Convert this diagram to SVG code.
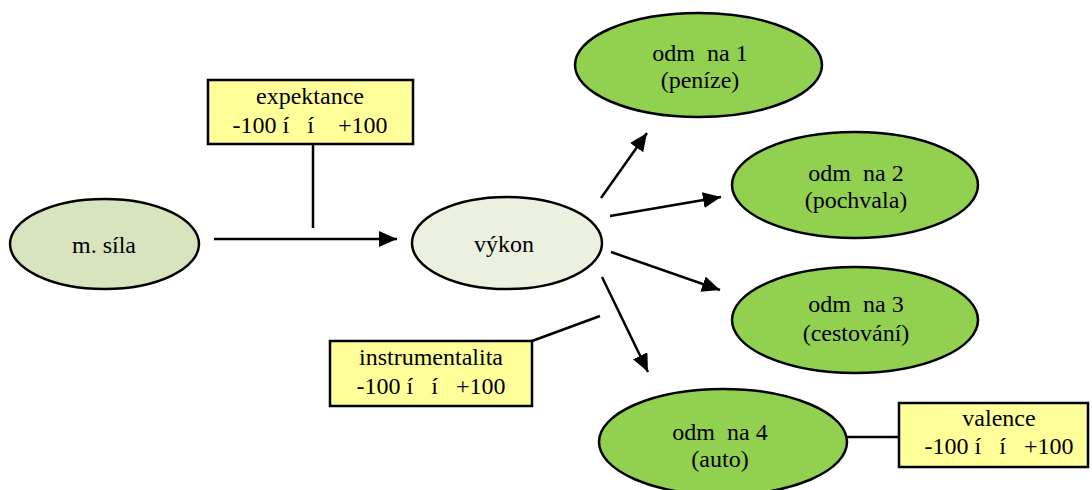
<svg xmlns="http://www.w3.org/2000/svg" width="1092" height="490" viewBox="0 0 1092 490">
<style>
text{font-family:"Liberation Serif","Times New Roman",serif;font-size:24px;fill:#000;text-anchor:middle;white-space:pre}
.el{stroke:#000;stroke-width:2.5}
.g{fill:#92D050}
.box{fill:#FFFF99;stroke:#000;stroke-width:2.5}
.ln{stroke:#000;stroke-width:2.5;fill:none}
</style>
<defs>
<marker id="ah" markerUnits="userSpaceOnUse" markerWidth="20" markerHeight="18" refX="18" refY="8" orient="auto">
<path d="M0,0 L18,8 L0,16 z" fill="#000"/>
</marker>
</defs>
<rect width="1092" height="490" fill="#fff"/>
<g id="connectors">
<line class="ln" x1="214" y1="239" x2="397" y2="239" marker-end="url(#ah)"/>
<line class="ln" x1="601" y1="198" x2="647" y2="133" marker-end="url(#ah)"/>
<line class="ln" x1="610" y1="216" x2="721" y2="197" marker-end="url(#ah)"/>
<line class="ln" x1="611" y1="252" x2="720" y2="290" marker-end="url(#ah)"/>
<line class="ln" x1="602" y1="277" x2="648" y2="372" marker-end="url(#ah)"/>
<line class="ln" x1="313" y1="144" x2="313" y2="228"/>
<line class="ln" x1="532" y1="341" x2="600" y2="316"/>
<line class="ln" x1="847" y1="437" x2="899" y2="437"/>
</g>
<g id="msila">
<ellipse class="el" cx="104.5" cy="244" rx="94.5" ry="45" fill="#D7E4BD"/>
<text x="104" y="253">m. síla</text>
</g>
<g id="vykon">
<ellipse class="el" cx="507" cy="243" rx="95" ry="46" fill="#EBF1DE"/>
<text x="504" y="252">výkon</text>
</g>
<g id="odm1">
<ellipse class="el g" cx="698.5" cy="65" rx="123.5" ry="52"/>
<text x="700" y="61">odm  na 1</text>
<text x="700" y="88">(peníze)</text>
</g>
<g id="odm2">
<ellipse class="el g" cx="855" cy="185" rx="123" ry="53"/>
<text x="856" y="181">odm  na 2</text>
<text x="856" y="208">(pochvala)</text>
</g>
<g id="odm3">
<ellipse class="el g" cx="855" cy="320" rx="123" ry="53"/>
<text x="856" y="312">odm  na 3</text>
<text x="856" y="341">(cestování)</text>
</g>
<g id="odm4">
<ellipse class="el g" cx="723" cy="442" rx="124" ry="53"/>
<text x="720" y="440">odm  na 4</text>
<text x="720" y="467">(auto)</text>
</g>
<g id="expektance">
<rect class="box" x="208" y="80" width="205" height="64"/>
<text x="310" y="104">expektance</text>
<text x="310" y="133">-100 í   í    +100</text>
</g>
<g id="instrumentalita">
<rect class="box" x="330" y="341" width="202" height="65"/>
<text x="431" y="365">instrumentalita</text>
<text x="431" y="394">-100 í   í   +100</text>
</g>
<g id="valence">
<rect class="box" x="899" y="403" width="189" height="64"/>
<text x="999" y="426">valence</text>
<text x="999" y="454">-100 í   í   +100</text>
</g>
</svg>
